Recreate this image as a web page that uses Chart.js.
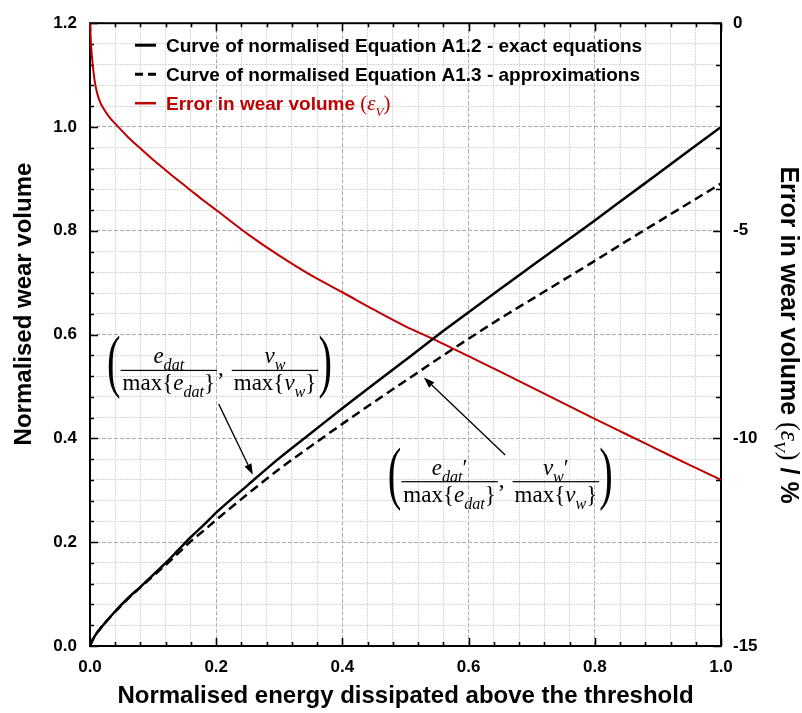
<!DOCTYPE html>
<html><head><meta charset="utf-8">
<script src="https://cdn.jsdelivr.net/npm/chart.js@4.4.0/dist/chart.umd.min.js"></script>
<style>html,body{margin:0;padding:0;background:#fff;}canvas{display:block;}</style>
</head><body>
<canvas id="c" width="802" height="713"></canvas>
<script>
// ---------- data ----------
const energyX      = [0, 0.002, 0.004, 0.008, 0.012, 0.016, 0.02, 0.03, 0.04, 0.06, 0.08, 0.1, 0.12, 0.14, 0.16, 0.18, 0.2, 0.25, 0.3, 0.35, 0.4, 0.45, 0.5, 0.55, 0.6, 0.65, 0.7, 0.75, 0.8, 0.85, 0.9, 0.95, 1.0];
const exactVolume  = [0, 0.006, 0.011, 0.02, 0.027, 0.033, 0.039, 0.053, 0.067, 0.092, 0.114, 0.137, 0.16, 0.185, 0.21, 0.233, 0.257, 0.31, 0.362, 0.41, 0.458, 0.505, 0.551, 0.598, 0.643, 0.688, 0.732, 0.776, 0.82, 0.865, 0.91, 0.955, 1.0];
const approxVolume = [0, 0.006, 0.011, 0.02, 0.027, 0.033, 0.039, 0.053, 0.066, 0.091, 0.113, 0.135, 0.156, 0.179, 0.202, 0.222, 0.243, 0.293, 0.341, 0.385, 0.428, 0.47, 0.511, 0.552, 0.592, 0.631, 0.668, 0.705, 0.742, 0.78, 0.817, 0.854, 0.891];
const errorPct     = [0, -0.6, -0.95, -1.45, -1.72, -1.9, -2.02, -2.25, -2.42, -2.74, -3.02, -3.29, -3.54, -3.79, -4.03, -4.27, -4.5, -5.08, -5.6, -6.07, -6.48, -6.9, -7.3, -7.65, -8.02, -8.39, -8.77, -9.15, -9.53, -9.9, -10.27, -10.64, -11.0];
const xTickLabels  = ['0.0', '0.2', '0.4', '0.6', '0.8', '1.0'];
const yTickLabels  = ['0.0', '0.2', '0.4', '0.6', '0.8', '1.0', '1.2'];
const y2TickLabels = ['0', '-5', '-10', '-15'];
const seriesNames  = ['Curve of normalised Equation A1.2 - exact equations', 'Curve of normalised Equation A1.3 - approximations', 'Error in wear volume '];
const axisTitles   = ['Normalised energy dissipated above the threshold', 'Normalised wear volume', 'Error in wear volume '];

const RED = '#c00000';
const SANS = '"Liberation Sans", Arial, sans-serif';
const SERIF = '"Liberation Serif", "DejaVu Serif", serif';

function labelFor(list, v) {
  for (const s of list) if (Math.abs(parseFloat(s) - v) < 1e-6) return s;
  return '';
}
function isMajor(v, step) { return Math.abs(v / step - Math.round(v / step)) < 1e-6; }
const pts = ys => energyX.map((x, i) => ({x: x, y: ys[i]}));

// ---------- helpers for mixed-style text ----------
function pieceFont(p, base) {
  const size = p.s === 'sub' ? base * 0.7 : (p.z ? base * p.z : base);
  return (p.it ? 'italic ' : '') + (p.b ? 'bold ' : '') + size + 'px ' + (p.sans ? SANS : SERIF);
}
function measurePieces(ctx, pieces, base) {
  let w = 0;
  for (const p of pieces) { ctx.font = pieceFont(p, base); w += ctx.measureText(p.t).width; }
  return w;
}
function drawPieces(ctx, x, y, pieces, base) {
  for (const p of pieces) {
    ctx.font = pieceFont(p, base);
    const dy = p.s === 'sub' ? base * 0.3 : 0;
    ctx.fillText(p.t, x, y + dy);
    x += ctx.measureText(p.t).width;
  }
  return x;
}
function drawFraction(ctx, x, barY, num, den, base) {
  const wn = measurePieces(ctx, num, base), wd = measurePieces(ctx, den, base);
  const w = Math.max(wn, wd) + 4;
  drawPieces(ctx, x + (w - wn) / 2, barY - 7, num, base);
  drawPieces(ctx, x + (w - wd) / 2, barY + 20, den, base);
  ctx.fillRect(x, barY - 0.6, w, 1.2);
  return x + w;
}
function drawParen(ctx, x, barY, ch) {
  ctx.save();
  ctx.font = '70px ' + SERIF;
  ctx.translate(x, barY + 14);
  ctx.scale(0.58, 1);
  ctx.fillText(ch, 0, 0);
  const w = ctx.measureText(ch).width * 0.58;
  ctx.restore();
  return x + w;
}
function drawFormula(ctx, x, barY, prime) {
  const B = 23;
  const num1 = [{t: 'e', it: 1}, {t: 'dat', it: 1, s: 'sub'}];
  const num2 = [{t: 'v', it: 1}, {t: 'w', it: 1, s: 'sub'}];
  if (prime) { num1.push({t: '\u2032'}); num2.push({t: '\u2032'}); }
  const den1 = [{t: 'max{'}, {t: 'e', it: 1}, {t: 'dat', it: 1, s: 'sub'}, {t: '}'}];
  const den2 = [{t: 'max{'}, {t: 'v', it: 1}, {t: 'w', it: 1, s: 'sub'}, {t: '}'}];
  ctx.fillStyle = '#000';
  ctx.textBaseline = 'alphabetic';
  ctx.textAlign = 'left';
  x = drawParen(ctx, x, barY, '(');
  x = drawFraction(ctx, x, barY, num1, den1, B);
  ctx.font = B + 'px ' + SERIF;
  ctx.fillText(',', x + 1, barY + 5);
  x += ctx.measureText(',').width + 9;
  x = drawFraction(ctx, x, barY, num2, den2, B);
  drawParen(ctx, x, barY, ')');
}
function drawArrow(ctx, x1, y1, x2, y2) {
  ctx.save();
  ctx.strokeStyle = '#000'; ctx.fillStyle = '#000'; ctx.lineWidth = 1.3;
  const ang = Math.atan2(y2 - y1, x2 - x1), L = 11, W = 3.8;
  const bx = x2 - L * Math.cos(ang), by = y2 - L * Math.sin(ang);
  ctx.beginPath(); ctx.moveTo(x1, y1); ctx.lineTo(bx, by); ctx.stroke();
  ctx.beginPath(); ctx.moveTo(x2, y2);
  ctx.lineTo(bx + W * Math.sin(ang), by - W * Math.cos(ang));
  ctx.lineTo(bx - W * Math.sin(ang), by + W * Math.cos(ang));
  ctx.closePath(); ctx.fill();
  ctx.restore();
}

// ---------- frame + inward ticks (under the curves) ----------
const frame = {
  id: 'frame',
  beforeDatasetsDraw(chart) {
    const {ctx, chartArea: a, scales} = chart;
    ctx.save();
    ctx.strokeStyle = '#000'; ctx.lineWidth = 1.6;
    ctx.beginPath();
    scales.x.ticks.forEach(t => {
      const p = Math.round(scales.x.getPixelForValue(t.value)) + 0.5;
      const len = isMajor(t.value, 0.2) ? 8 : 4;
      ctx.moveTo(p, a.bottom); ctx.lineTo(p, a.bottom - len);
      ctx.moveTo(p, a.top); ctx.lineTo(p, a.top + len);
    });
    scales.y.ticks.forEach(t => {
      const p = Math.round(scales.y.getPixelForValue(t.value)) + 0.5;
      const len = isMajor(t.value, 0.2) ? 8 : 4;
      ctx.moveTo(a.left, p); ctx.lineTo(a.left + len, p);
    });
    scales.y2.ticks.forEach(t => {
      const p = Math.round(scales.y2.getPixelForValue(t.value)) + 0.5;
      const len = isMajor(t.value, 5) ? 8 : 5;
      ctx.moveTo(a.right, p); ctx.lineTo(a.right - len, p);
    });
    ctx.stroke();
    ctx.lineWidth = 2;
    ctx.strokeRect(a.left, a.top, a.right - a.left, a.bottom - a.top);
    ctx.restore();
  }
};

// ---------- legend, titles, notes ----------
const decor = {
  id: 'decor',
  afterDraw(chart, args, opts) {
    const {ctx, chartArea: a, scales} = chart;
    ctx.save();
    const lx = a.left + 45, tx = a.left + 76, rows = [a.top + 22, a.top + 51, a.top + 80];
    ctx.lineWidth = 3;
    ctx.strokeStyle = '#000';
    ctx.beginPath(); ctx.moveTo(lx, rows[0]); ctx.lineTo(lx + 21, rows[0]); ctx.stroke();
    ctx.setLineDash([8, 5]);
    ctx.beginPath(); ctx.moveTo(lx, rows[1]); ctx.lineTo(lx + 21, rows[1]); ctx.stroke();
    ctx.setLineDash([]);
    ctx.strokeStyle = RED; ctx.lineWidth = 2.5;
    ctx.beginPath(); ctx.moveTo(lx, rows[2]); ctx.lineTo(lx + 21, rows[2]); ctx.stroke();
    ctx.textBaseline = 'alphabetic'; ctx.textAlign = 'left';
    ctx.fillStyle = '#000';
    ctx.font = 'bold 19px ' + SANS;
    ctx.fillText(seriesNames[0], tx, rows[0] + 7);
    ctx.fillText(seriesNames[1], tx, rows[1] + 7);
    ctx.fillStyle = RED;
    drawPieces(ctx, tx, rows[2] + 7, [
      {t: seriesNames[2], b: 1, sans: 1}, {t: '(', z: 1.1}, {t: '\u03b5', it: 1, z: 1.1}, {t: 'V', it: 1, s: 'sub'}, {t: ')', z: 1.1}
    ], 19);

    ctx.fillStyle = '#000';
    ctx.font = 'bold 24px ' + SANS;
    ctx.textAlign = 'center';
    ctx.fillText(axisTitles[0], (a.left + a.right) / 2, 703);
    ctx.save();
    ctx.translate(31, 304); ctx.rotate(-Math.PI / 2);
    ctx.fillText(axisTitles[1], 0, 0);
    ctx.restore();
    ctx.save();
    ctx.translate(781, 335); ctx.rotate(Math.PI / 2);
    ctx.textAlign = 'left';
    const rp = [{t: axisTitles[2], b: 1, sans: 1}, {t: '(', z: 1.05}, {t: '\u03b5', it: 1, z: 1.05}, {t: 'V', it: 1, s: 'sub'}, {t: ')', z: 1.05}, {t: ' / %', b: 1, sans: 1}];
    const rw = measurePieces(ctx, rp, 25);
    drawPieces(ctx, -rw / 2, 0, rp, 25);
    ctx.restore();

    (opts.notes || []).forEach(n => {
      const X = v => scales.x.getPixelForValue(v), Y = v => scales.y.getPixelForValue(v);
      drawFormula(ctx, X(n.left), Y(n.bar), n.prime);
      drawArrow(ctx, X(n.from[0]), Y(n.from[1]), X(n.to[0]), Y(n.to[1]));
    });
    ctx.restore();
  }
};

const gridColor = c => (c.tick && isMajor(c.tick.value, 0.2)) ? '#a9a9a9' : '#d6d6d6';
const gridDash = c => (c.tick && isMajor(c.tick.value, 0.2)) ? [4, 2] : [2, 1];
const tickFont = {family: SANS, size: 17, weight: 'bold'};

new Chart(document.getElementById('c'), {
  type: 'scatter',
  data: {
    datasets: [
      {label: seriesNames[0], data: pts(exactVolume), showLine: true, borderColor: '#000', borderWidth: 2.5, pointRadius: 0, cubicInterpolationMode: 'monotone', yAxisID: 'y'},
      {label: seriesNames[1], data: pts(approxVolume), showLine: true, borderColor: '#000', borderWidth: 2.5, borderDash: [9, 5], pointRadius: 0, cubicInterpolationMode: 'monotone', yAxisID: 'y'},
      {label: seriesNames[2], data: pts(errorPct), showLine: true, borderColor: RED, borderWidth: 2, pointRadius: 0, cubicInterpolationMode: 'monotone', yAxisID: 'y2', clip: 3}
    ]
  },
  options: {
    responsive: false, animation: false, devicePixelRatio: 1,
    layout: {padding: {top: 13, left: 0, right: 0, bottom: 0}},
    plugins: {
      legend: {display: false}, tooltip: {enabled: false},
      decor: {notes: [
        {left: 0.027, bar: 0.531, prime: false, from: [0.204, 0.466], to: [0.258, 0.330]},
        {left: 0.472, bar: 0.3166, prime: true, from: [0.658, 0.368], to: [0.529, 0.5175]}
      ]}
    },
    scales: {
      x: {
        type: 'linear', position: 'bottom', min: 0, max: 1,
        ticks: {stepSize: 0.04, autoSkip: false, maxRotation: 0, padding: 11, color: '#000', font: tickFont, callback: v => labelFor(xTickLabels, v)},
        grid: {color: gridColor, lineWidth: 1, drawTicks: false},
        border: {display: false, dash: gridDash},
        afterFit: s => { s.height = 67; }
      },
      y: {
        type: 'linear', position: 'left', min: 0, max: 1.2,
        ticks: {stepSize: 0.04, autoSkip: false, padding: 13, color: '#000', font: tickFont, callback: v => labelFor(yTickLabels, v)},
        grid: {color: gridColor, lineWidth: 1, drawTicks: false},
        border: {display: false, dash: gridDash},
        afterFit: s => { s.width = 90; }
      },
      y2: {
        type: 'linear', position: 'right', min: -15, max: 0,
        ticks: {stepSize: 1, autoSkip: false, padding: 12, color: '#000', font: tickFont, callback: v => labelFor(y2TickLabels, v)},
        grid: {drawOnChartArea: false, drawTicks: false},
        border: {display: false},
        afterFit: s => { s.width = 81; }
      }
    }
  },
  plugins: [frame, decor]
});
</script>
</body></html>
